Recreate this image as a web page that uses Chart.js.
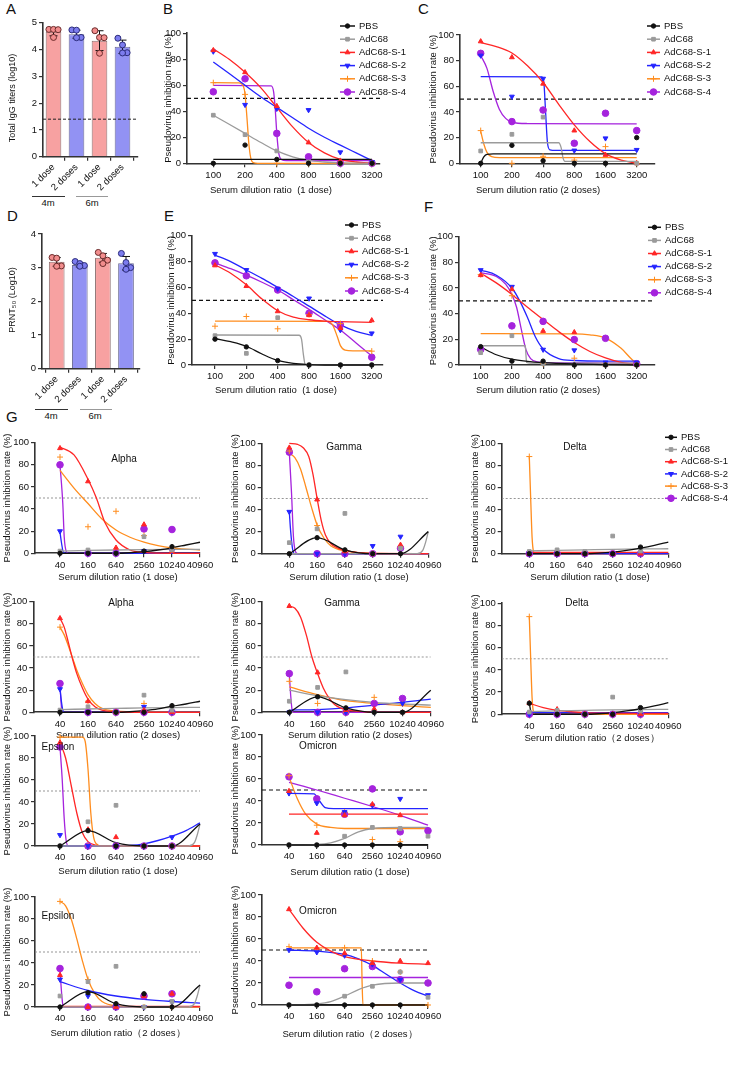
<!DOCTYPE html>
<html>
<head>
<meta charset="utf-8">
<script src="https://cdn.jsdelivr.net/npm/chart.js@4.4.1/dist/chart.umd.min.js"></script>
<style>
body { margin:0; background:#fff; width:731px; height:1065px; position:relative; overflow:hidden;
       font-family:'Liberation Sans', Arial, sans-serif; color:#111; }
canvas { position:absolute; }
.tag { position:absolute; font-size:15px; line-height:15px; }
.grp { position:absolute; font-size:9.5px; line-height:10px; width:30px; margin-left:-15px; text-align:center; }
.rule { position:absolute; height:0; border-top:1px solid #333; }
</style>
</head>
<body>
<div class="tag" style="left:6px;top:1px">A</div>
<div class="tag" style="left:163px;top:1px">B</div>
<div class="tag" style="left:418px;top:1px">C</div>
<div class="tag" style="left:7px;top:208px">D</div>
<div class="tag" style="left:164px;top:208px">E</div>
<div class="tag" style="left:424px;top:199px">F</div>
<div class="tag" style="left:6px;top:409px">G</div>

<div class="rule" style="left:32px;top:196px;width:33px"></div>
<div class="rule" style="left:76px;top:196px;width:32px;border-color:#999"></div>
<div class="grp" style="left:48px;top:198px">4m</div>
<div class="grp" style="left:92px;top:198px">6m</div>
<div class="rule" style="left:35px;top:409px;width:33px"></div>
<div class="rule" style="left:80px;top:409px;width:32px;border-color:#999"></div>
<div class="grp" style="left:51px;top:411px">4m</div>
<div class="grp" style="left:95px;top:411px">6m</div>

<script>
// groups, looks
const groups = ['PBS', 'AdC68', 'AdC68-S-1', 'AdC68-S-2', 'AdC68-S-3', 'AdC68-S-4'];
const colors = ['#111111', '#9b9b9b', '#ff2626', '#2424ff', '#ff8d1e', '#a523dd'];
const marks = ['circle', 'rect', 'triangle', 'triangle', 'cross', 'circle'];
const turns = [0, 0, 0, 180, 0, 0];
const sizes = [2.2, 2.6, 2.8, 2.8, 3, 3.3];

// tick labels
const doseTicks = ['100', '200', '400', '800', '1600', '3200'];
const variantTicks = ['40', '160', '640', '2560', '10240', '40960'];
const barLabels = ['1 dose', '2 doses', '1 dose', '2 doses'];

// A: total IgG (log10)
const iggMean = [4.66, 4.57, 4.33, 4.10];
const iggSD = [0.15, 0.15, 0.37, 0.25];
const iggPts = [[4.75, 4.75, 4.74, 4.45], [4.73, 4.72, 4.45, 4.44], [4.70, 4.45, 4.44, 3.86], [4.42, 4.17, 3.88, 3.87]];
const iggCutoff = 1.4;

// D: PRNT50 (log10)
const prntMean = [3.17, 3.08, 3.29, 3.13];
const prntSD = [0.13, 0.06, 0.13, 0.2];
const prntPts = [[3.30, 3.28, 3.05, 3.04], [3.18, 3.12, 3.06, 3.04], [3.45, 3.35, 3.22, 3.12], [3.42, 3.15, 3.00, 2.95]];

// B: 1 dose
const bPts = [
  [0, 14, 3, 0, 0, 0],
  [37, 22, 9.5, 1, 0, 0],
  [87, 70, 44, 16, 2, 0],
  [86, 45, 42, 41, 8.5, 1],
  [62, 53, 0, 0, 0, 0],
  [55, 65, 23, 5, 0, 0]
];
const bFit = [
  [[0, 3], [5, 3]],
  [[0, 37], [0.5, 30], [1, 23], [1.5, 16], [2, 9.5], [2.5, 5], [3, 2.2], [3.5, 1], [4, 0.4], [5, 0]],
  [[0, 88], [0.5, 80], [1, 70], [1.5, 58], [2, 43], [2.5, 28], [3, 16], [3.5, 8], [4, 3], [4.5, 1], [5, 0]],
  [[0, 78], [0.5, 69], [1, 60], [1.5, 51], [2, 43], [2.5, 35], [3, 27], [3.5, 20], [4, 14], [4.5, 8], [5, 2]],
  [[0, 62], [0.8, 61.8], [0.95, 59], [1, 53], [1.06, 35], [1.12, 15], [1.18, 4], [1.26, 0.5], [1.4, 0], [5, 0]],
  [[0, 60], [1.82, 59.5], [1.9, 55], [1.95, 42], [2, 23], [2.06, 8], [2.14, 3], [2.3, 2], [5, 2]]
];

// C: 2 doses
const cPts = [
  [0, 14, 2, 0, 0, 20],
  [9.6, 22.6, 36, 0, 0, 0],
  [95, 82.6, 62, 25.5, 6.5, 0],
  [84, 52, 66, 10, 19.5, 10.5],
  [25.5, 0, 5.5, 2.5, 13, 0],
  [85.7, 32.5, 41.5, 15.6, 39, 25.5]
];
const cFit = [
  [[0, 0], [0.1, 5], [0.2, 7], [0.4, 7.3], [5, 7.3]],
  [[0, 16], [2.5, 16], [2.58, 12], [2.64, 4], [2.7, 1.5], [5, 1.5]],
  [[0, 94], [0.5, 91], [1, 86], [1.5, 76], [2, 63], [2.5, 46], [3, 30], [3.5, 17], [4, 7.5], [4.5, 2.5], [5, 0]],
  [[0, 67.5], [1.95, 67.4], [2.02, 64], [2.08, 40], [2.14, 16], [2.22, 10.5], [2.4, 10], [5, 10]],
  [[0, 25], [0.1, 15], [0.2, 8.5], [0.35, 5.2], [0.6, 4.5], [5, 4.5]],
  [[0, 84], [0.2, 74], [0.4, 56], [0.6, 42], [0.8, 35], [1, 32], [1.5, 31], [5, 30.7]]
];

// E: 1 dose
const ePts = [
  [20, 14, 3.4, 0, 0, 0],
  [22.7, 9, 36.6, 0, 0, 0],
  [77, 61, 41.5, 38.5, 28.5, 34.5],
  [86, 73.5, 59, 51.5, 27, 24.5],
  [30, 37.5, 28, 39, 32, 10.7],
  [79, 69, 58, 40, 31, 6]
];
const eFit = [
  [[0, 20.5], [0.5, 18], [1, 14.5], [1.5, 8.5], [2, 3.5], [2.5, 1.2], [3, 0.3], [3.5, 0], [5, 0]],
  [[0, 23.2], [2.68, 23], [2.76, 20], [2.82, 8], [2.88, 0], [5, 0]],
  [[0, 77.5], [0.5, 71], [1, 62], [1.5, 51], [2, 42], [2.5, 37], [3, 35], [3.5, 34], [4, 33.5], [5, 33]],
  [[0, 85], [0.5, 80], [1, 73.5], [1.5, 67], [2, 60], [2.5, 53], [3, 45.5], [3.5, 38], [4, 31], [4.5, 26], [5, 23]],
  [[0, 34], [3.6, 33.8], [3.75, 31], [3.9, 22], [4, 15], [4.15, 11.5], [4.4, 11], [5, 11]],
  [[0, 79], [0.5, 74.5], [1, 69.5], [1.5, 64], [2, 58], [2.5, 50.5], [3, 43], [3.5, 35], [4, 27], [4.5, 17], [5, 7]]
];

// F: 2 doses
const fPts = [
  [14.3, 3, 3, 0, 0, 0],
  [9.6, 22.8, 1, 0, 0, 0],
  [70, 59, 26.5, 25.5, 0, 0],
  [74, 61, 12, 11.5, 2, 2],
  [70.5, 54, 1, 5.3, 1, 1],
  [12, 30.5, 34, 19.8, 20.8, 1]
];
const fFit = [
  [[0, 14], [0.5, 8], [1, 4.5], [1.5, 2.8], [2, 1.8], [3, 0.8], [4, 0.3], [5, 0]],
  [[0, 15], [1.43, 15], [1.45, 8], [1.47, 2], [1.6, 1.5], [5, 1.5]],
  [[0, 71.5], [0.5, 64], [1, 55], [1.5, 45], [2, 35.5], [2.5, 26], [3, 17.5], [3.5, 10.5], [4, 5.5], [4.5, 2], [5, 0.5]],
  [[0, 74], [0.5, 70], [1, 60], [1.25, 50], [1.5, 37], [1.75, 22], [2, 12.5], [2.5, 5], [3, 3.5], [4, 3], [5, 3]],
  [[0, 24.5], [3, 24.3], [3.5, 23.5], [4, 21], [4.5, 13], [4.8, 5.5], [5, 1]],
  [[0, 72], [0.5, 69], [0.8, 63], [1, 55], [1.15, 45], [1.3, 28], [1.45, 12], [1.6, 5], [1.8, 2.5], [2.2, 1.8], [5, 1.5]]
];

// G, variants (x: 40 ... 40960)
const alpha1Pts = [
  [0, 0, 0, 2, 6, null], [2, 3, 0, 15, 3, null], [95, 65, 5, 26, 2, null],
  [20, 0, 0, 2, 2, null], [87, 24, 38, 16, 5, null], [80, 0, 0, 22, 21.5, null]
];
const alpha1Fit = [
  [[0, 0], [2, 0], [2.5, 0.5], [3, 1.5], [3.5, 3], [4, 5], [4.5, 7.5], [5, 10]],
  [[0, 2], [1, 2.6], [2, 3], [3, 3.3], [4, 3.5], [5, 3.6]],
  [[0, 96], [0.5, 89], [1, 67], [1.3, 50], [1.6, 28], [2, 12], [2.5, 3], [3, 0.8], [4, 0], [5, 0]],
  [[0, 19], [0.05, 10], [0.12, 1], [0.2, 0], [5, 0]],
  [[0, 75], [0.5, 59], [1, 45], [1.5, 31], [2, 21], [2.5, 14.5], [3, 10], [3.5, 7], [4, 5], [4.5, 3.8], [5, 3]],
  [[0, 80], [0.1, 45], [0.15, 15], [0.22, 2], [0.3, 0], [5, 0]]
];
const gamma1Pts = [
  [0, 14.5, 3.5, 0, 0, null], [10, 22.5, 36.5, 0, 5, null], [96, 49, 2, 0, 8, null],
  [38, 0, 0, 7, 15.5, null], [93, 25.5, 2, 0, 6, null], [92, 0, 0, 0, 5, null]
];
const gamma1Fit = [
  [[0, 0], [1, 14.5], [2, 3.5], [3, 0], [4, 0], [5, 20]],
  [[0, 0], [4.6, 0], [4.8, 3], [4.9, 10], [5, 20]],
  [[0, 100], [0.3, 99], [0.5, 96], [0.7, 88], [0.85, 72], [1, 50], [1.15, 30], [1.3, 17], [1.5, 9], [1.75, 5], [2, 3], [2.5, 1], [3, 0.2], [5, 0]],
  [[0, 38], [0.05, 20], [0.12, 4], [0.2, 0], [5, 0]],
  [[0, 91], [0.2, 87], [0.4, 77], [0.6, 60], [0.8, 42], [1, 26], [1.25, 14], [1.5, 7], [2, 2.5], [2.5, 1], [3, 0.3], [5, 0]],
  [[0, 92], [0.08, 55], [0.15, 15], [0.22, 2], [0.3, 0], [5, 0]]
];
const delta1Pts = [
  [0, 0, 0, 0, 6, null], [2, 3.5, 2, 16, 2.5, null], [0, 0, 0, 0, 0, null],
  [0, 0, 0, 0, 0, null], [88, 0, 0, 0, 0, null], [0, 0, 0, 0, 0, null]
];
const delta1Fit = [
  [[0, 0], [2, 0], [2.5, 0.5], [3, 1.5], [3.5, 3], [4, 5], [4.5, 7.5], [5, 10.5]],
  [[0, 2.5], [1, 3], [2, 3.5], [3, 4], [4, 4.3], [5, 4.5]],
  [[0, 1.2], [5, 1.2]],
  [[0, 0], [5, 0]],
  [[0, 88], [0.05, 50], [0.1, 15], [0.15, 2], [0.2, 0], [5, 0]],
  [[0, 0], [5, 0]]
];
const alpha2Pts = [
  [0, 0, 0, 0, 6, null], [2, 5, 0, 15.5, 2, null], [85, 10, 0, 2, 0, null],
  [21, 0, 0, 5, 0, null], [77, 10, 0, 8, 0, null], [26, 0, 0, 0, 0, null]
];
const alpha2Fit = [
  [[0, 0], [2, 0], [2.5, 0.5], [3, 1.5], [3.5, 3], [4, 5.5], [4.5, 7.5], [5, 10]],
  [[0, 2.5], [1, 3], [2, 3.5], [3, 4], [4, 4.3], [5, 4.5]],
  [[0, 85], [0.15, 77], [0.3, 63], [0.45, 48], [0.6, 35], [0.8, 22], [1, 12], [1.25, 5], [1.5, 2], [2, 0.5], [3, 0], [5, 0]],
  [[0, 21], [0.05, 10], [0.1, 2], [0.15, 0], [5, 0]],
  [[0, 77], [0.15, 70], [0.3, 60], [0.45, 49], [0.6, 38], [0.8, 26], [1, 16], [1.25, 8], [1.5, 3.5], [2, 1], [2.5, 0.5], [3, 0.3], [5, 0.2]],
  [[0, 26], [0.04, 8], [0.08, 0], [5, 0]]
];
const gamma2Pts = [
  [0, 14, 4, 0, 0, null], [10, 22.5, 36.5, 0, 0, null], [96, 36, 2, 3, 0, null],
  [0, 0, 0, 0, 8, null], [28, 8, 0, 13.5, 7.5, null], [35, 0, 0, 8, 12.5, null]
];
const gamma2Fit = [
  [[0, 0], [1, 14], [2, 4], [3, 0], [4, 0], [5, 20]],
  [[0, 20], [1, 15], [2, 11.5], [3, 9], [4, 7.5], [5, 6.5]],
  [[0, 96], [0.2, 94], [0.4, 86], [0.6, 70], [0.8, 50], [1, 35], [1.2, 22], [1.4, 13], [1.6, 7], [1.8, 4], [2, 2.5], [2.5, 0.8], [3, 0], [5, 0]],
  [[0, 2], [1, 2.5], [2, 4], [3, 6.5], [4, 9], [5, 12]],
  [[0, 23], [1, 16], [2, 10.5], [3, 8], [4, 6], [5, 4.5]],
  [[0, 35], [0.05, 15], [0.1, 2], [0.15, 0], [5, 0]]
];
const delta2Pts = [
  [10, 0, 0, 0, 6, null], [2, 3.5, 0, 15.5, 3, null], [10, 4.5, 0, 0, 0, null],
  [0, 0, 0, 0, 0, null], [88, 0, 0, 0, 0, null], [0, 0, 0, 0, 0, null]
];
const delta2Fit = [
  [[0, 10], [0.05, 3], [0.1, 0], [2, 0], [2.5, 0.5], [3, 1.5], [3.5, 3], [4, 5], [4.5, 7.5], [5, 10.5]],
  [[0, 2.5], [1, 3], [2, 3.5], [3, 4], [4, 4.3], [5, 4.5]],
  [[0, 10], [0.5, 6], [1, 3.5], [1.5, 2.3], [2, 1.5], [3, 1], [4, 0.8], [5, 0.7]],
  [[0, 1.5], [5, 1.5]],
  [[0, 88], [0.05, 50], [0.1, 15], [0.15, 2], [0.2, 0], [5, 0]],
  [[0, 0], [5, 0]]
];
const epsilon1Pts = [
  [0, 14, 0, 0, 0, null], [0, 22, 37, 0, 0, null], [94, 15, 8, 0, 0, null],
  [10, 0, 0, 0, 8, null], [99, 0, 0, 0, 0, null], [90, 0, 0, 0, 0, null]
];
const epsilon1Fit = [
  [[0, 0], [1, 14], [2, 3], [3, 0], [4, 0], [5, 20]],
  [[0, 0], [4.6, 0], [4.8, 3], [4.9, 10], [5, 20]],
  [[0, 94], [0.2, 80], [0.4, 55], [0.6, 30], [0.8, 12], [1, 4], [1.3, 0.5], [1.6, 0], [5, 0]],
  [[0, 0], [2, 0], [2.5, 0.5], [3, 2], [3.5, 5], [4, 9], [4.5, 14], [5, 21]],
  [[0, 99], [0.8, 99], [0.9, 95], [1, 70], [1.1, 30], [1.2, 8], [1.35, 1], [1.5, 0], [5, 0]],
  [[0, 90], [0.08, 60], [0.15, 25], [0.22, 5], [0.3, 0], [5, 0]]
];
const epsilon2Pts = [
  [0, 13, 3, 12, 0, null], [10, 23, 37, 0, 5, null], [29, 0, 0, 10, 12, null],
  [25, 10, 0, 0, 5, null], [96, 25, 0, 0, 0, null], [35, 0, 0, 10, 12, null]
];
const epsilon2Fit = [
  [[0, 0], [1, 14], [2, 3], [3, 0], [4, 0], [5, 20]],
  [[0, 0], [4.6, 0], [4.8, 3], [4.9, 10], [5, 20]],
  [[0, 0.5], [5, 0.5]],
  [[0, 23], [1, 15], [2, 10], [3, 7], [4, 5], [5, 3.5]],
  [[0, 96], [0.2, 92], [0.4, 80], [0.6, 62], [0.8, 42], [1, 25], [1.25, 12], [1.5, 5], [2, 1], [3, 0], [5, 0]],
  [[0, 35], [0.05, 15], [0.1, 2], [0.15, 0], [5, 0]]
];
const omicron1Pts = [
  [0, 0, 0, 0, 0, null], [0, 0, 8, 16, 15, 8], [49, 11, 27, 37, 27, null],
  [47, 38, 30, 36, 42, null], [63, 18, 30, 5, 3, null], [62, 42, 28, 51, 12, 13]
];
const omicron1Fit = [
  [[0, 0], [5, 0]],
  [[0, 0], [1, 0.5], [1.5, 2], [2, 6], [2.5, 12], [3, 15], [4, 16], [5, 16]],
  [[0, 28], [5, 28]],
  [[0, 47], [0.9, 46.5], [1.1, 40], [1.3, 34], [1.6, 33], [5, 33]],
  [[0, 62], [0.3, 42], [0.6, 28], [1, 19], [1.5, 16], [2, 15], [5, 15]],
  [[0, 57], [1, 50], [2, 42.5], [3, 35], [4, 27], [5, 18]]
];
const omicron2Pts = [
  [0, 0, 0, 0, 0, null], [0, 0, 8, 17, 30, 7], [87, 52, 47, 38, 40, 38],
  [50, 48, 45, 37, 23, 9], [53, 51, 52, 40, 30, 0], [18, 12, 33, 35, 23, 20]
];
const omicron2Fit = [
  [[0, 0], [5, 0]],
  [[0, 0], [1, 1], [1.5, 3], [2, 8], [2.5, 14], [3, 18], [4, 20], [5, 20]],
  [[0, 87], [0.5, 70], [1, 57], [1.5, 49], [2, 44], [3, 40], [4, 38], [5, 37]],
  [[0, 50], [1, 49], [2, 46], [2.5, 42], [3, 36], [3.5, 28], [4, 20], [4.5, 13], [5, 8]],
  [[0, 52], [2.6, 52], [2.63, 20], [2.66, 0], [5, 0]],
  [[0, 25], [5, 25]]
];

Chart.defaults.font.family = "'Liberation Sans', Arial, sans-serif";
Chart.defaults.font.size = 9.5;
Chart.defaults.color = '#111';
Chart.defaults.animation = false;
Chart.defaults.plugins.legend.display = false;
Chart.defaults.plugins.tooltip.enabled = false;

const FONT = "'Liberation Sans', Arial, sans-serif";

// texts and side legend drawn on top of the chart
const notes = {
  id: 'notes',
  afterDraw(chart, args, opts) {
    const ctx = chart.ctx;
    (opts.items || []).forEach(it => {
      ctx.save();
      ctx.translate(it.x, it.y);
      if (it.rot) ctx.rotate(it.rot);
      ctx.font = (it.size || 9.5) + 'px ' + FONT;
      ctx.fillStyle = '#111';
      ctx.textAlign = 'center';
      ctx.textBaseline = 'middle';
      ctx.fillText(it.t, 0, 0);
      ctx.restore();
    });
    const lg = opts.legend;
    if (!lg) return;
    groups.forEach((g, i) => {
      const y = lg.y + i * lg.dy;
      ctx.save();
      ctx.strokeStyle = colors[i];
      ctx.fillStyle = colors[i];
      ctx.lineWidth = 1.5;
      ctx.beginPath();
      ctx.moveTo(lg.x, y);
      ctx.lineTo(lg.x + lg.len, y);
      ctx.stroke();
      ctx.lineWidth = 1;
      Chart.helpers.drawPoint(ctx, {pointStyle: marks[i], rotation: turns[i], radius: sizes[i], borderWidth: 1}, lg.x + lg.len / 2, y);
      ctx.fillStyle = '#111';
      ctx.font = '9.5px ' + FONT;
      ctx.textAlign = 'left';
      ctx.textBaseline = 'middle';
      ctx.fillText(g, lg.x + lg.len + 4, y);
      ctx.restore();
    });
  }
};

function makeCanvas(left, top, w, h) {
  const c = document.createElement('canvas');
  c.width = w; c.height = h;
  c.style.left = left + 'px'; c.style.top = top + 'px';
  c.style.width = w + 'px'; c.style.height = h + 'px';
  document.body.appendChild(c);
  return c;
}

function axisLook() {
  return {
    grid: {display: true, drawOnChartArea: false, drawTicks: true, tickLength: 4, color: '#333', lineWidth: 1.2},
    border: {display: true, color: '#333', width: 1.6}
  };
}

function curvePanel(o) {
  const cl = Math.floor(o.yTitleX - 8), ct = Math.floor(o.T - 26);
  const cr = Math.ceil(o.right || (o.R + 20)), cb = Math.ceil(o.xTitleY + 8);
  const canvas = makeCanvas(cl, ct, cr - cl, cb - ct);
  const xMin = (o.L - o.x0) / o.step, xMax = (o.R - o.x0) / o.step;
  const yW = o.L - cl, xH = cb - o.B;

  const datasets = [];
  o.pts.forEach((p, i) => datasets.push({
    data: p.map((v, j) => v === null ? null : {x: j, y: v}).filter(Boolean),
    showLine: false, pointStyle: marks[i], pointRotation: turns[i], pointRadius: sizes[i],
    backgroundColor: colors[i], borderColor: colors[i], pointBorderWidth: 1, order: 0, clip: false
  }));
  o.fits.forEach((f, i) => datasets.push({
    data: f.map(q => ({x: q[0], y: q[1]})),
    borderColor: colors[i], borderWidth: 1.3, pointRadius: 0, fill: false,
    cubicInterpolationMode: 'monotone', order: 1, clip: false
  }));
  const bold = o.dash === 'bold';
  datasets.push({
    data: [{x: xMin, y: 50}, {x: xMax, y: 50}],
    borderColor: bold ? '#111' : '#8a8a8a', borderWidth: bold ? 1.2 : 0.9,
    borderDash: bold ? [4, 3] : [2, 2], pointRadius: 0, order: 2
  });

  const items = [
    {t: 'Pseudovirus inhibition rate (%)', x: o.yTitleX - cl, y: (o.T + o.B) / 2 - ct, rot: -Math.PI / 2},
    {t: o.xTitle, x: o.xTitleX - cl, y: o.xTitleY - ct}
  ];
  if (o.title) items.push({t: o.title[0], x: o.title[1] - cl, y: o.title[2] - ct, size: 10});
  const legend = o.legend ? {x: o.legend[0] - cl, y: o.legend[1] - ct, dy: o.legend[2], len: o.legend[3]} : null;

  new Chart(canvas, {
    type: 'line',
    data: {datasets},
    plugins: [notes],
    options: {
      responsive: false,
      layout: {padding: {left: 0, top: o.T - ct, right: cr - o.R, bottom: 0}},
      plugins: {notes: {items, legend}},
      scales: {
        x: Object.assign(axisLook(), {
          type: 'linear', min: xMin, max: xMax,
          afterBuildTicks: s => { s.ticks = o.ticks.map((_, i) => ({value: i})); },
          afterFit: s => { s.height = xH; },
          ticks: {autoSkip: false, maxRotation: 0, minRotation: 0, padding: 2,
                  callback: v => o.ticks[Math.round(v)]}
        }),
        y: Object.assign(axisLook(), {
          min: 0, max: 100,
          afterFit: s => { s.width = yW; },
          ticks: {stepSize: 20, padding: 2}
        })
      }
    }
  });
}

const spread = [-0.2, 0, 0.2, 0];
const barFill = ['#f7a1a1', '#9292f3', '#f7a1a1', '#9292f3'];
const barEdge = ['#8a6f6f', '#6b6b92', '#8a6f6f', '#6b6b92'];
const dotFill = ['#f28d8d', '#7c7cee'];
const dotEdge = ['#6b2b2b', '#2b2b7a'];

function barPanel(o) {
  const cl = Math.floor(o.yTitleX - 8), ct = Math.floor(o.T - 12);
  const cr = Math.ceil(o.R + 8), cb = Math.ceil(o.B + 40);
  const canvas = makeCanvas(cl, ct, cr - cl, cb - ct);
  const xMin = (o.L - o.x0) / o.step, xMax = (o.R - o.x0) / o.step;
  const yW = o.L - cl, xH = cb - o.B;

  const datasets = [{
    type: 'bar', data: o.mean.map((m, i) => ({x: i, y: m})),
    backgroundColor: barFill, borderColor: barEdge, borderWidth: 1,
    barPercentage: 0.68, categoryPercentage: 1, order: 3
  }];
  o.mean.forEach((m, i) => datasets.push({
    type: 'line', data: [{x: i, y: m - o.sd[i]}, {x: i, y: m + o.sd[i]}],
    borderColor: '#111', borderWidth: 1, pointStyle: 'line', pointRadius: 4,
    pointBorderColor: '#111', pointBorderWidth: 1, order: 2, clip: false
  }));
  o.pts.forEach((p, i) => datasets.push({
    type: 'scatter', data: p.map((v, j) => ({x: i + spread[j], y: v})),
    pointRadius: 3, backgroundColor: dotFill[i % 2], borderColor: dotEdge[i % 2],
    borderWidth: 1, order: 1, clip: false
  }));
  if (o.ref != null) datasets.push({
    type: 'line', data: [{x: xMin, y: o.ref}, {x: xMax, y: o.ref}],
    borderColor: '#222', borderWidth: 1, borderDash: [3, 2], pointRadius: 0, order: 0
  });

  new Chart(canvas, {
    type: 'bar',
    data: {datasets},
    plugins: [notes],
    options: {
      responsive: false,
      layout: {padding: {left: 0, top: o.T - ct, right: cr - o.R, bottom: 0}},
      plugins: {notes: {items: [{t: o.yTitle, x: o.yTitleX - cl, y: o.yTitleY - ct, rot: -Math.PI / 2, size: 9}]}},
      scales: {
        x: Object.assign(axisLook(), {
          type: 'linear', min: xMin, max: xMax, offset: false,
          afterBuildTicks: s => { s.ticks = barLabels.map((_, i) => ({value: i})); },
          afterFit: s => { s.height = xH; },
          ticks: {autoSkip: false, maxRotation: 45, minRotation: 45, padding: 1,
                  callback: v => barLabels[Math.round(v)]}
        }),
        y: Object.assign(axisLook(), {
          min: 0, max: o.yMax,
          afterFit: s => { s.width = yW; },
          ticks: {stepSize: 1, padding: 2}
        })
      }
    }
  });
}

// A, D
barPanel({L: 43, R: 138, T: 22.7, B: 156.7, x0: 53.5, step: 23, yMax: 5, mean: iggMean, sd: iggSD, pts: iggPts,
  ref: iggCutoff, yTitle: 'Total IgG titers (log10)', yTitleX: 12.5, yTitleY: 98});
barPanel({L: 42, R: 140, T: 233.9, B: 368.7, x0: 56.7, step: 23.1, yMax: 4, mean: prntMean, sd: prntSD, pts: prntPts,
  ref: null, yTitle: 'PRNT\u2085\u2080 (Log10)', yTitleX: 13, yTitleY: 300});

// B, C, E, F
curvePanel({L: 187, R: 380, T: 33.3, B: 163.3, x0: 213.3, step: 31.75, ticks: doseTicks, pts: bPts, fits: bFit,
  yTitleX: 168, xTitle: 'Serum dilution ratio  (1 dose)', xTitleX: 271, xTitleY: 190,
  legend: [340, 26, 13.2, 15], right: 414, dash: 'bold'});
curvePanel({L: 460, R: 655, T: 35, B: 163.3, x0: 480.7, step: 31.2, ticks: doseTicks, pts: cPts, fits: cFit,
  yTitleX: 433, xTitle: 'Serum dilution ratio (2 doses)', xTitleX: 538, xTitleY: 190,
  legend: [647, 26, 13.2, 13], right: 731, dash: 'bold'});
curvePanel({L: 192, R: 383, T: 235.7, B: 365, x0: 215, step: 31.35, ticks: doseTicks, pts: ePts, fits: eFit,
  yTitleX: 171, xTitle: 'Serum dilution ratio  (1 dose)', xTitleX: 276, xTitleY: 390,
  legend: [345, 225, 13.2, 13], right: 414, dash: 'bold'});
curvePanel({L: 459, R: 655, T: 236.7, B: 365, x0: 480.7, step: 31.2, ticks: doseTicks, pts: fPts, fits: fFit,
  yTitleX: 433.5, xTitle: 'Serum dilution ratio (2 doses)', xTitleX: 538, xTitleY: 390,
  legend: [648, 227.3, 13.1, 13], right: 731, dash: 'bold'});

// G
curvePanel({L: 35, R: 200, T: 442.7, B: 553.3, x0: 60, step: 28, ticks: variantTicks, pts: alpha1Pts, fits: alpha1Fit,
  yTitleX: 7, xTitle: 'Serum dilution ratio (1 dose)', xTitleX: 118, xTitleY: 577, title: ['Alpha', 124, 459]});
curvePanel({L: 261.7, R: 428.3, T: 443.3, B: 553.7, x0: 289.3, step: 27.8, ticks: variantTicks, pts: gamma1Pts, fits: gamma1Fit,
  yTitleX: 235, xTitle: 'Serum dilution ratio (1 dose)', xTitleX: 349, xTitleY: 577, title: ['Gamma', 344, 447]});
curvePanel({L: 501.7, R: 668.3, T: 443.3, B: 553.7, x0: 529.3, step: 27.8, ticks: variantTicks, pts: delta1Pts, fits: delta1Fit,
  yTitleX: 475, xTitle: 'Serum dilution ratio (1 dose)', xTitleX: 590, xTitleY: 577, title: ['Delta', 575, 447],
  legend: [665, 437.3, 12.2, 12], right: 731});
curvePanel({L: 33.3, R: 200, T: 601.7, B: 712.3, x0: 60, step: 28, ticks: variantTicks, pts: alpha2Pts, fits: alpha2Fit,
  yTitleX: 7, xTitle: 'Serum dilution ratio (2 doses)', xTitleX: 118, xTitleY: 735, title: ['Alpha', 121, 603]});
curvePanel({L: 261.7, R: 430.7, T: 601.7, B: 712.3, x0: 289.3, step: 28.3, ticks: variantTicks, pts: gamma2Pts, fits: gamma2Fit,
  yTitleX: 235, xTitle: 'Serum dilution ratio (2 doses)', xTitleX: 350, xTitleY: 735, title: ['Gamma', 342, 603]});
curvePanel({L: 501.7, R: 668.3, T: 603.3, B: 714.3, x0: 529.3, step: 27.8, ticks: variantTicks, pts: delta2Pts, fits: delta2Fit,
  yTitleX: 475, xTitle: 'Serum dilution ratio\uff082 doses\uff09', xTitleX: 592, xTitleY: 738, title: ['Delta', 577, 603]});
curvePanel({L: 35, R: 200, T: 736, B: 846, x0: 60, step: 28, ticks: variantTicks, pts: epsilon1Pts, fits: epsilon1Fit,
  yTitleX: 7, xTitle: 'Serum dilution ratio (1 dose)', xTitleX: 118, xTitleY: 871, title: ['Epsilon', 58, 747]});
curvePanel({L: 262, R: 428, T: 735, B: 845, x0: 289, step: 27.8, ticks: variantTicks, pts: omicron1Pts, fits: omicron1Fit,
  yTitleX: 235, xTitle: 'Serum dilution ratio (1 dose)', xTitleX: 350, xTitleY: 872, title: ['Omicron', 318, 746], dash: 'bold'});
curvePanel({L: 35, R: 200, T: 897, B: 1007, x0: 60, step: 28, ticks: variantTicks, pts: epsilon2Pts, fits: epsilon2Fit,
  yTitleX: 7, xTitle: 'Serum dilution ratio\uff082 doses\uff09', xTitleX: 118, xTitleY: 1033, title: ['Epsilon', 58, 916]});
curvePanel({L: 262, R: 428, T: 895, B: 1005, x0: 289, step: 27.8, ticks: variantTicks, pts: omicron2Pts, fits: omicron2Fit,
  yTitleX: 235, xTitle: 'Serum dilution ratio\uff082 doses\uff09', xTitleX: 350, xTitleY: 1034, title: ['Omicron', 318, 911], dash: 'bold'});
</script>
</body>
</html>
